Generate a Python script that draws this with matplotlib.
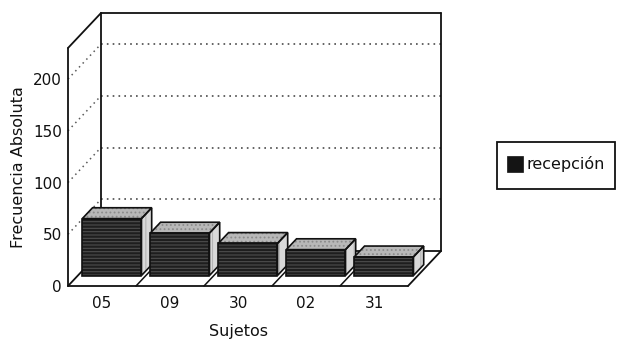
import matplotlib
matplotlib.use("Agg")
import matplotlib.pyplot as plt
from matplotlib.patches import Polygon, Rectangle

# Data
sujetos = ["05", "09", "30", "02", "31"]
recepcion = [55, 41, 31, 25, 18]
y_ticks = [0, 50, 100, 150, 200]
y_max = 230
serie = "recepción"

plt.rcParams['font.family'] = ['DejaVu Sans']
plt.rcParams['hatch.linewidth'] = 0.8

W, H = 619, 344
fig = plt.figure(figsize=(W / 100, H / 100), dpi=100)
fig.patch.set_facecolor("white")

# Axes covers the front plane of the 3-D box
ax = fig.add_axes([68 / W, 58 / H, 340 / W, 238 / H])
n = len(sujetos)
ax.set_xlim(0, n)
ax.set_ylim(0, y_max)
for s in ax.spines.values():
    s.set_visible(False)
ax.patch.set_visible(False)

# Oblique depth offset (data units)
DX = 0.485
DY = 33.8
ink = "#111111"


def seg(x0, y0, x1, y1, **kw):
    style = dict(color=ink, lw=1.3, clip_on=False, solid_capstyle="round", zorder=2)
    style.update(kw)
    ax.plot([x0, x1], [y0, y1], **style)


# Dotted gridlines on back wall and side wall
for v in y_ticks[1:]:
    seg(DX, v + DY, n + DX, v + DY, color="#4a4a4a", lw=1.2,
        linestyle=(0, (1, 2.5)), zorder=1)
    seg(0, v, DX, v + DY, color="#5a5a5a", lw=1.1,
        linestyle=(0, (1, 2.5)), zorder=1)

# Back wall
seg(DX, DY, DX, y_max + DY)
seg(DX, y_max + DY, n + DX, y_max + DY)
seg(n + DX, y_max + DY, n + DX, DY)
seg(DX, DY, n + DX, DY)
# Side wall and value axis
seg(0, 0, 0, y_max)
seg(0, y_max, DX, y_max + DY)
# Floor
seg(0, 0, n, 0)
seg(0, 0, DX, DY)
seg(n, 0, n + DX, DY)
for k in range(1, n):
    seg(k, 0, k + DX, DY, lw=1.1)

# Bars
z0, z1 = 0.30, 0.61
half = 0.435
ddx = (z1 - z0) * DX
ddy = (z1 - z0) * DY
for i, v in enumerate(recepcion):
    x0 = i + 0.5 - half + z0 * DX
    x1 = i + 0.5 + half + z0 * DX
    yb = z0 * DY
    yt = yb + v
    front = [(x0, yb), (x1, yb), (x1, yt), (x0, yt)]
    top = [(x0, yt), (x1, yt), (x1 + ddx, yt + ddy), (x0 + ddx, yt + ddy)]
    side = [(x1, yb), (x1 + ddx, yb + ddy), (x1 + ddx, yt + ddy), (x1, yt)]
    z = 3 + i
    # fills with texture
    ax.add_patch(Polygon(front, closed=True, facecolor="#1e1e1e", edgecolor="#4e4e4e",
                         hatch="-----", lw=0, clip_on=False, zorder=z))
    ax.add_patch(Polygon(top, closed=True, facecolor="#b8b8b8", edgecolor="#8c8c8c",
                         hatch="....", lw=0, clip_on=False, zorder=z))
    ax.add_patch(Polygon(side, closed=True, facecolor="#d8d8d8", edgecolor="#b4b4b4",
                         hatch="||", lw=0, clip_on=False, zorder=z))
    # outlines
    for pts in (front, top, side):
        ax.add_patch(Polygon(pts, closed=True, fill=False, edgecolor=ink, lw=1.2,
                             clip_on=False, zorder=z + 0.5))

# Ticks and labels
ax.set_yticks(y_ticks)
ax.set_yticklabels([str(t) for t in y_ticks])
ax.set_xticks([i + 0.5 for i in range(n)])
ax.set_xticklabels(sujetos)
ax.tick_params(axis="y", length=0, pad=4.5, labelsize=11, labelcolor=ink)
ax.tick_params(axis="x", length=0, pad=7, labelsize=11, labelcolor=ink)

ax.set_xlabel("Sujetos", fontsize=11.5, color=ink, va="top")
ax.xaxis.set_label_coords(0.5, -0.16)
ax.set_ylabel("Frecuencia Absoluta", fontsize=11.5, color=ink, va="center", ha="center")
ax.yaxis.set_label_coords((18.5 - 68) / 340, 0.5)

# Legend box
fig.add_artist(Rectangle((497 / W, (H - 189) / H), 118 / W, 47 / H,
                         transform=fig.transFigure, fill=False, ec=ink, lw=1.3))
fig.add_artist(Rectangle((507 / W, (H - 172) / H), 16 / W, 16 / H,
                         transform=fig.transFigure, fc="#141414", ec="#141414", lw=0.5))
fig.text(527 / W, (H - 164.5) / H, serie, fontsize=11.5, color=ink,
         ha="left", va="center")

fig.savefig("out.png", dpi=100, facecolor="white")
